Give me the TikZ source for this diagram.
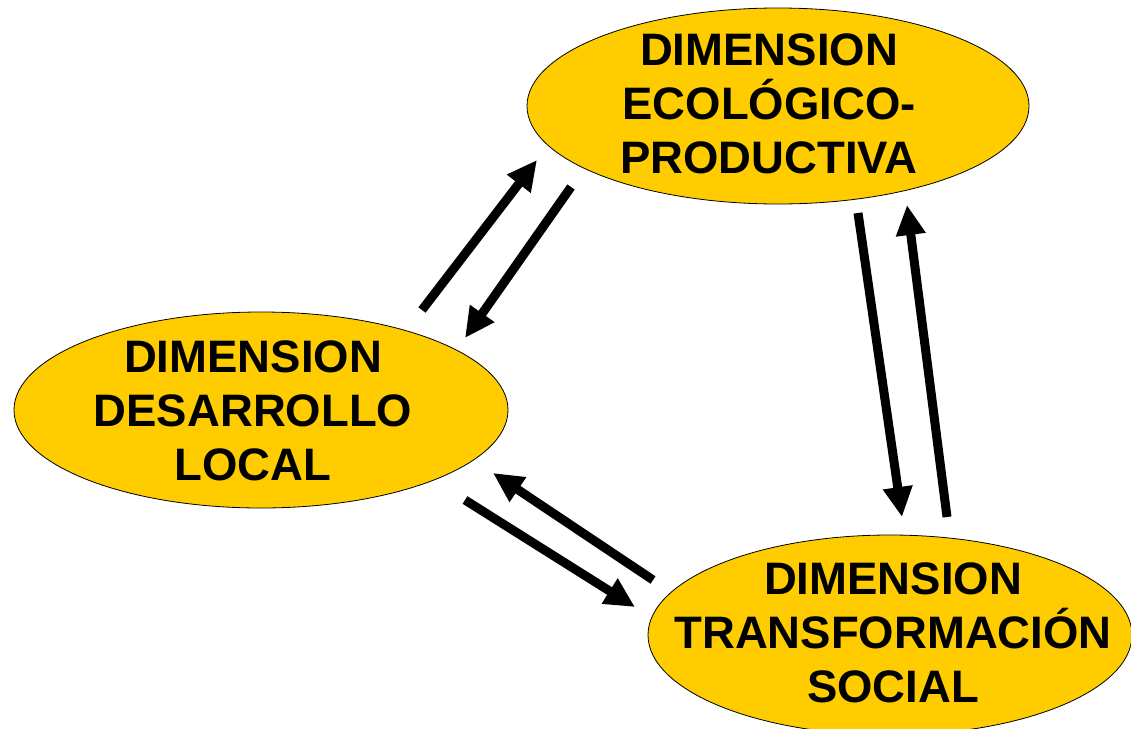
\documentclass[tikz,border=0pt]{standalone}
\usepackage{fontspec}
\setmainfont{Liberation Sans}
\usetikzlibrary{arrows.meta}
\usetikzlibrary{shapes.geometric}
\definecolor{dimyellow}{HTML}{FFCC00}

\begin{document}
\begin{tikzpicture}[x = 1pt, y = -1pt,
	dim/.style = {ellipse, draw, line width = 0.8pt, fill = dimyellow, inner sep = 0pt},
	dimtext/.style = {align = center, inner sep = 0pt, font = \fontsize{45.5}{54}\selectfont\bfseries},
	flow/.style = {line width = 9pt, -{Triangle[length = 30pt, width = 28pt]}}]
	\useasboundingbox (0,0) rectangle (1131,728);
	\clip (0,0) rectangle (1131,728);

	\node[dim, minimum width = 502pt, minimum height = 196pt] (eco) at (778, 106) {};
	\node[dim, minimum width = 494pt, minimum height = 196pt] (local) at (261, 410) {};
	\node[dim, minimum width = 484pt, minimum height = 200pt] (social) at (890, 635) {};

	\node[dimtext] (ecotext) at (769, 104) {DIMENSION\\ECOLÓGICO-\\PRODUCTIVA};
	\node[dimtext] (localtext) at (253, 411) {DIMENSION\\DESARROLLO\\LOCAL};
	\node[dimtext] (socialtext) at (893, 633) {DIMENSION\\TRANSFORMACIÓN\\SOCIAL};

	\coordinate (lu1) at (422, 310);
	\coordinate (lu2) at (537, 160);
	\coordinate (ld1) at (571, 187);
	\coordinate (ld2) at (465, 338);
	\coordinate (rd1) at (858, 213);
	\coordinate (rd2) at (902, 517);
	\coordinate (ru1) at (947, 517);
	\coordinate (ru2) at (907, 205);
	\coordinate (bl1) at (653, 580);
	\coordinate (bl2) at (493, 473);
	\coordinate (br1) at (465, 500);
	\coordinate (br2) at (635, 607);

	\draw[flow] (lu1) -- (lu2);
	\draw[flow] (ld1) -- (ld2);
	\draw[flow] (rd1) -- (rd2);
	\draw[flow] (ru1) -- (ru2);
	\draw[flow] (bl1) -- (bl2);
	\draw[flow] (br1) -- (br2);
\end{tikzpicture}
\end{document}
